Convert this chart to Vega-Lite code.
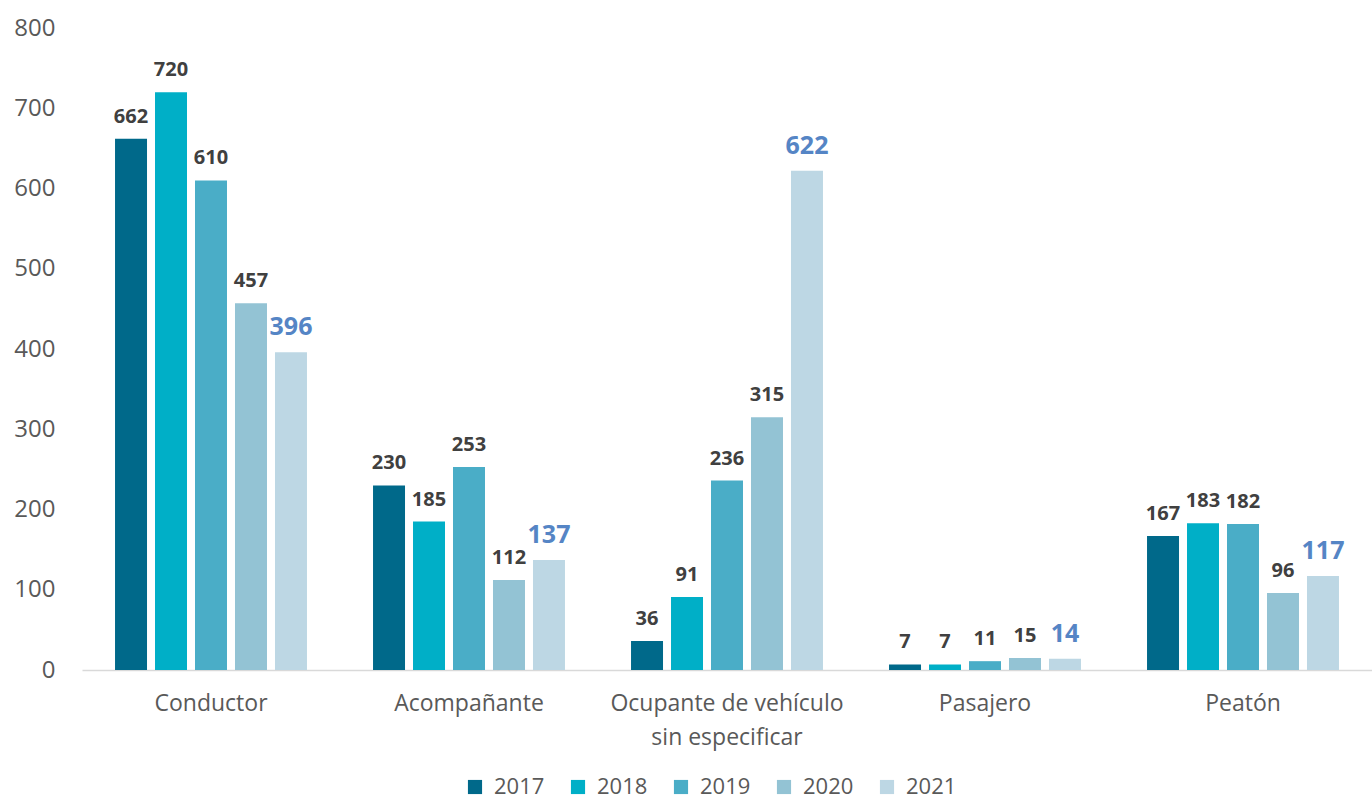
{
  "$schema": "https://vega.github.io/schema/vega-lite/v6.json",
  "width": 1290,
  "height": 642,
  "autosize": "none",
  "padding": {"left": 82, "top": 28, "right": 0, "bottom": 136},
  "background": "white",
  "config": {"view": {"stroke": null}, "font": "Open Sans"},
  "data": {"values": [
    {"cat": "Conductor", "year": "2017", "v": 662},
    {"cat": "Conductor", "year": "2018", "v": 720},
    {"cat": "Conductor", "year": "2019", "v": 610},
    {"cat": "Conductor", "year": "2020", "v": 457},
    {"cat": "Conductor", "year": "2021", "v": 396},
    {"cat": "Acompañante", "year": "2017", "v": 230},
    {"cat": "Acompañante", "year": "2018", "v": 185},
    {"cat": "Acompañante", "year": "2019", "v": 253},
    {"cat": "Acompañante", "year": "2020", "v": 112},
    {"cat": "Acompañante", "year": "2021", "v": 137},
    {"cat": "Ocupante de vehículo sin especificar", "year": "2017", "v": 36},
    {"cat": "Ocupante de vehículo sin especificar", "year": "2018", "v": 91},
    {"cat": "Ocupante de vehículo sin especificar", "year": "2019", "v": 236},
    {"cat": "Ocupante de vehículo sin especificar", "year": "2020", "v": 315},
    {"cat": "Ocupante de vehículo sin especificar", "year": "2021", "v": 622},
    {"cat": "Pasajero", "year": "2017", "v": 7},
    {"cat": "Pasajero", "year": "2018", "v": 7},
    {"cat": "Pasajero", "year": "2019", "v": 11},
    {"cat": "Pasajero", "year": "2020", "v": 15},
    {"cat": "Pasajero", "year": "2021", "v": 14},
    {"cat": "Peatón", "year": "2017", "v": 167},
    {"cat": "Peatón", "year": "2018", "v": 183},
    {"cat": "Peatón", "year": "2019", "v": 182},
    {"cat": "Peatón", "year": "2020", "v": 96},
    {"cat": "Peatón", "year": "2021", "v": 117}
  ]},
  "encoding": {
    "x": {
      "field": "cat", "type": "nominal", "sort": null,
      "scale": {"paddingInner": 0.256, "paddingOuter": 0.128},
      "axis": {
        "title": null, "labelAngle": 0, "ticks": false,
        "domainColor": "#D9D9D9", "domainWidth": 1.5,
        "labelFontSize": 23, "labelColor": "#595959", "labelPadding": 22,
        "labelLineHeight": 34, "labelLimit": 400, "labelBaseline": "top",
        "labelExpr": "datum.label == 'Ocupante de vehículo sin especificar' ? ['Ocupante de vehículo', 'sin especificar'] : datum.label"
      }
    },
    "xOffset": {"field": "year", "type": "nominal", "scale": {"paddingInner": 0.2, "paddingOuter": 0}},
    "y": {
      "field": "v", "type": "quantitative",
      "scale": {"domain": [0, 800]},
      "axis": {
        "title": null, "values": [0,100,200,300,400,500,600,700,800],
        "grid": false, "domain": false, "ticks": false, "labelOverlap": false,
        "labelFontSize": 24, "labelColor": "#595959", "labelPadding": 27
      }
    }
  },
  "layer": [
    {
      "mark": {"type": "bar"},
      "encoding": {
        "color": {
          "field": "year", "type": "nominal",
          "scale": {"domain": ["2017","2018","2019","2020","2021"], "range": ["#00698A", "#00AFC7", "#4AADC7", "#93C3D4", "#BDD7E4"]},
          "legend": {
            "title": null, "orient": "none", "direction": "horizontal",
            "legendX": 382, "legendY": 748,
            "symbolType": "square", "symbolSize": 200, "symbolStrokeWidth": 0,
            "labelFontSize": 22, "labelColor": "#595959", "columnPadding": 22,
            "labelOffset": 8
          }
        }
      }
    },
    {
      "mark": {"type": "text", "baseline": "bottom", "dy": -12, "fontWeight": "bold"},
      "encoding": {
        "text": {"field": "v", "type": "quantitative"},
        "color": {"condition": {"test": "datum.year === '2021'", "value": "#5585C5"}, "value": "#404040"},
        "size": {"condition": {"test": "datum.year === '2021'", "value": 25}, "value": 20}
      }
    }
  ]
}
